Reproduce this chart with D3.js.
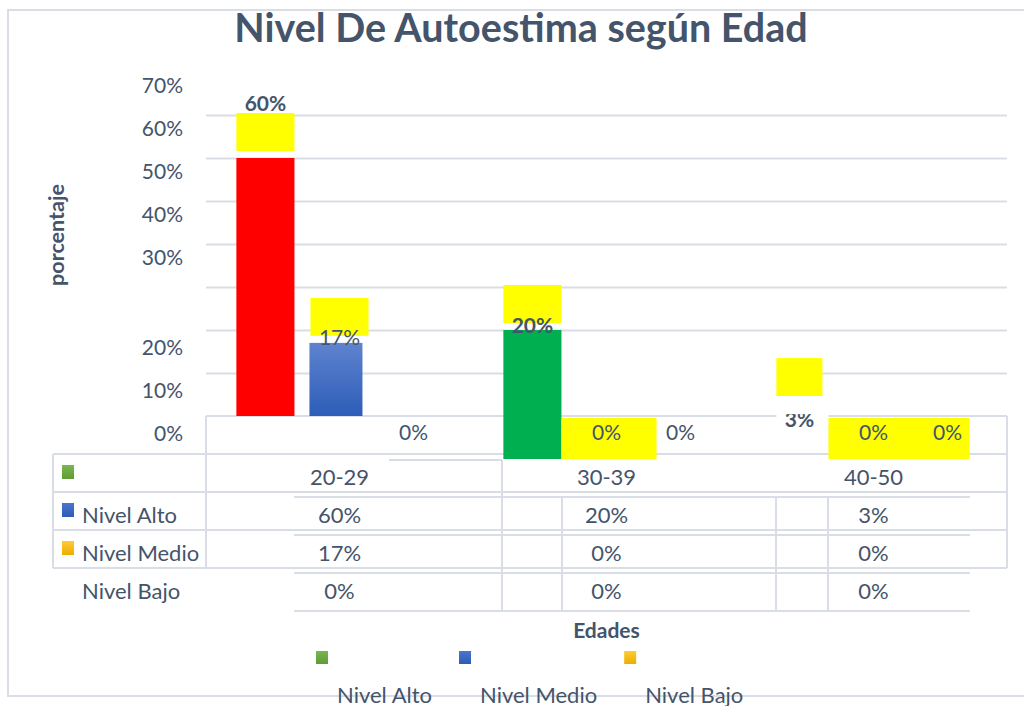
<!DOCTYPE html>
<html>
<head>
<meta charset="utf-8">
<script src="https://cdn.jsdelivr.net/npm/d3@7"></script>
<style>
  body { margin: 0; background: #fff; }
  text { font-family: Lato, "Open Sans", sans-serif; fill: #44546A; }
</style>
</head>
<body>
<div id="chart"></div>
<script>
// Data
const categories = ["20-29", "30-39", "40-50"];
const series = ["Nivel Alto", "Nivel Medio", "Nivel Bajo"];
const nivelAlto = [60, 20, 3];
const nivelMedio = [17, 0, 0];
const nivelBajo = [0, 0, 0];
const yTicks = [0, 10, 20, 30, 40, 50, 60, 70];

const values = [nivelAlto, nivelMedio, nivelBajo];
const fmt = v => v + "%";

const width = 1024, height = 706;
const lineCol = "#D9DDE5";

const svg = d3.select("#chart")
  .append("svg")
    .attr("width", width)
    .attr("height", height);

// gradients for the blue bar and the legend keys
const defs = svg.append("defs");
function grad(id, c1, c2) {
  const g = defs.append("linearGradient").attr("id", id)
    .attr("x1", 0).attr("y1", 0).attr("x2", 0).attr("y2", 1);
  g.append("stop").attr("offset", "0%").attr("stop-color", c1);
  g.append("stop").attr("offset", "100%").attr("stop-color", c2);
}
grad("gBlue", "#5F83CF", "#2C5DB8");
grad("kGreen", "#7BB64F", "#5E9C35");
grad("kBlue", "#4A77CB", "#2D5BB7");
grad("kYellow", "#FFCB33", "#EBAE00");

// scales
const x0 = d3.scaleBand().domain(categories).range([206, 1007]);
const x1 = d3.scaleBand().domain(series).range([0, x0.bandwidth()])
  .paddingInner(0.216).paddingOuter(0.41);
const y = d3.scaleLinear().domain([0, 70]).range([416, 115]);
const bw = x1.bandwidth();
const bx = (c, s) => x0(c) + x1(s);

const rows = categories.flatMap((c, i) => series.map((s, j) => ({ cat: c, ser: s, v: values[j][i] })));

// outer frame
svg.append("rect")
  .attr("x", 8).attr("y", 10).attr("width", 1100).attr("height", 686)
  .attr("fill", "none").attr("stroke", lineCol).attr("stroke-width", 2);

// gridlines
svg.append("g")
  .attr("transform", `translate(206,0)`)
  .call(d3.axisLeft(y).tickValues(yTicks.filter(d => d > 0)).tickSize(-(1007 - 206)).tickFormat(""))
  .call(g => g.select(".domain").remove())
  .selectAll("line").attr("stroke", lineCol).attr("stroke-width", 2);

// baseline
svg.append("line")
  .attr("x1", 206).attr("x2", 1007).attr("y1", y(0)).attr("y2", y(0))
  .attr("stroke", lineCol).attr("stroke-width", 2);

// data table grid (two overlapping copies, as in the original)
const tA = [454, 492, 530, 568];
const tB = [497, 535, 573, 611];
const grid = svg.append("g").attr("stroke", lineCol).attr("stroke-width", 2);
tA.forEach(yy => grid.append("line").attr("x1", 53).attr("x2", 1007).attr("y1", yy).attr("y2", yy));
[[53, 454], [206, y(0)], [1007, y(0)]].forEach(([xx, y1]) =>
  grid.append("line").attr("x1", xx).attr("x2", xx).attr("y1", y1).attr("y2", 568));
tB.forEach(yy => grid.append("line").attr("x1", 294).attr("x2", 970).attr("y1", yy).attr("y2", yy));
grid.append("line").attr("x1", 389).attr("x2", 502).attr("y1", 460).attr("y2", 460);
grid.append("line").attr("x1", 502).attr("x2", 502).attr("y1", 460).attr("y2", 611);
[562, 776, 828].forEach(xx =>
  grid.append("line").attr("x1", xx).attr("x2", xx).attr("y1", 497).attr("y2", 611));

// white patches where the original loses its gridlines
const a3 = bx("40-50", "Nivel Alto");
svg.append("rect")
  .attr("x", bx("30-39", "Nivel Alto") + bw).attr("y", y(20) + 4)
  .attr("width", a3 + 6 - (bx("30-39", "Nivel Alto") + bw)).attr("height", y(0) - 2 - (y(20) + 4))
  .attr("fill", "#fff");
svg.append("rect")
  .attr("x", a3 + 6).attr("y", y(3) - 7).attr("width", 52).attr("height", y(0) + 2 - (y(3) - 7))
  .attr("fill", "#fff");

// bars
const barStyle = {
  "20-29|Nivel Alto": { fill: "#FF0000" },
  "20-29|Nivel Medio": { fill: "url(#gBlue)", w: 53, dx: -1 },
  "30-39|Nivel Alto": { fill: "#00B050", drop: 43 }
};
svg.append("g").selectAll("rect")
  .data(rows.filter(d => barStyle[d.cat + "|" + d.ser]))
  .join("rect")
    .attr("x", d => bx(d.cat, d.ser) + (barStyle[d.cat + "|" + d.ser].dx || 0))
    .attr("y", d => y(d.v))
    .attr("width", d => barStyle[d.cat + "|" + d.ser].w || bw)
    .attr("height", d => y(0) - y(d.v) + (barStyle[d.cat + "|" + d.ser].drop || 0))
    .attr("fill", d => barStyle[d.cat + "|" + d.ser].fill);

// yellow fills behind some zero labels
const zeroBoxes = [
  { cat: "30-39", from: "Nivel Medio", to: "Nivel Medio", padL: 16, padR: 21 },
  { cat: "40-50", from: "Nivel Medio", to: "Nivel Bajo", padL: 16, padR: -7 }
];
svg.append("g").selectAll("rect")
  .data(zeroBoxes)
  .join("rect")
    .attr("x", d => bx(d.cat, d.from) - d.padL)
    .attr("y", y(0) + 2)
    .attr("width", d => bx(d.cat, d.to) + bw + d.padR - (bx(d.cat, d.from) - d.padL))
    .attr("height", 41)
    .attr("fill", "#FFFF00");

// yellow boxes above the non-zero values
const boxInset = { "40-50|Nivel Alto": 6 };
svg.append("g").selectAll("rect")
  .data(rows.filter(d => d.v > 0))
  .join("rect")
    .attr("x", d => bx(d.cat, d.ser) + (boxInset[d.cat + "|" + d.ser] || 0))
    .attr("y", d => y(d.v) - 45)
    .attr("width", d => bw - 2 * (boxInset[d.cat + "|" + d.ser] || 0))
    .attr("height", 38)
    .attr("fill", "#FFFF00");

// value labels
const labelDy = { "20-29|Nivel Alto": -47, "20-29|Nivel Medio": 2, "30-39|Nivel Alto": 3 };
svg.append("g").selectAll("text")
  .data(rows)
  .join("text")
    .attr("x", d => bx(d.cat, d.ser) + bw / 2)
    .attr("y", d => y(d.v) + (labelDy[d.cat + "|" + d.ser] ?? 24))
    .attr("text-anchor", "middle")
    .style("font-size", "21px")
    .style("font-weight", d => d.ser === "Nivel Alto" ? 700 : 400)
    .text(d => fmt(d.v));

// clip the top of the 3% label
svg.append("rect")
  .attr("x", a3 + 6).attr("y", y(3) - 7).attr("width", 52).attr("height", 18)
  .attr("fill", "#fff");

// y tick labels (shifted as in the original)
svg.append("g")
  .attr("transform", "translate(183,0)")
  .call(d3.axisLeft(y).tickValues(yTicks).tickSize(0).tickPadding(0).tickFormat(fmt))
  .call(g => g.select(".domain").remove())
  .selectAll("text")
    .attr("dy", d => (d >= 30 ? -30 : 17) + 7.5)
    .style("font-size", "21px")
    .style("font-family", "Lato, sans-serif")
    .attr("fill", "#44546A");

// data table text
const rowBase = r => tA[0] + 31 + 38 * r;
svg.append("g").selectAll("text")
  .data(categories)
  .join("text")
    .attr("x", d => x0(d) + x0.bandwidth() / 2)
    .attr("y", rowBase(0))
    .attr("text-anchor", "middle")
    .style("font-size", "22px")
    .text(d => d);
svg.append("g").selectAll("text")
  .data(rows)
  .join("text")
    .attr("x", d => x0(d.cat) + x0.bandwidth() / 2)
    .attr("y", d => rowBase(series.indexOf(d.ser) + 1))
    .attr("text-anchor", "middle")
    .style("font-size", "22px")
    .text(d => fmt(d.v));

const keyFills = ["url(#kGreen)", "url(#kBlue)", "url(#kYellow)"];
svg.append("g").selectAll("rect")
  .data(keyFills)
  .join("rect")
    .attr("x", 62)
    .attr("y", (d, i) => tA[0] + 11 + 38 * i)
    .attr("width", 12).attr("height", 14)
    .attr("fill", d => d);
svg.append("g").selectAll("text")
  .data(series)
  .join("text")
    .attr("x", 82)
    .attr("y", (d, i) => rowBase(i + 1))
    .style("font-size", "22px")
    .text(d => d);

// titles
svg.append("text")
  .attr("x", 521).attr("y", 42)
  .attr("text-anchor", "middle")
  .style("font-size", "39.5px").style("font-weight", 700)
  .text("Nivel De Autoestima según Edad");

svg.append("text")
  .attr("transform", "translate(64,235) rotate(-90)")
  .attr("text-anchor", "middle")
  .style("font-size", "21.5px").style("font-weight", 700)
  .text("porcentaje");

svg.append("text")
  .attr("x", x0("30-39") + x0.bandwidth() / 2).attr("y", 638)
  .attr("text-anchor", "middle")
  .style("font-size", "21px").style("font-weight", 700)
  .text("Edades");

// bottom legend (keys float above the names)
const legend = svg.append("g");
let lx = 316;
series.forEach((s, i) => {
  legend.append("rect")
    .attr("x", lx).attr("y", 651).attr("width", 12).attr("height", 13)
    .attr("fill", keyFills[i]);
  const t = legend.append("text")
    .attr("x", lx + 21).attr("y", 703)
    .style("font-size", "22px")
    .text(s);
  lx += 21 + t.node().getComputedTextLength() + 27;
});
</script>
</body>
</html>
